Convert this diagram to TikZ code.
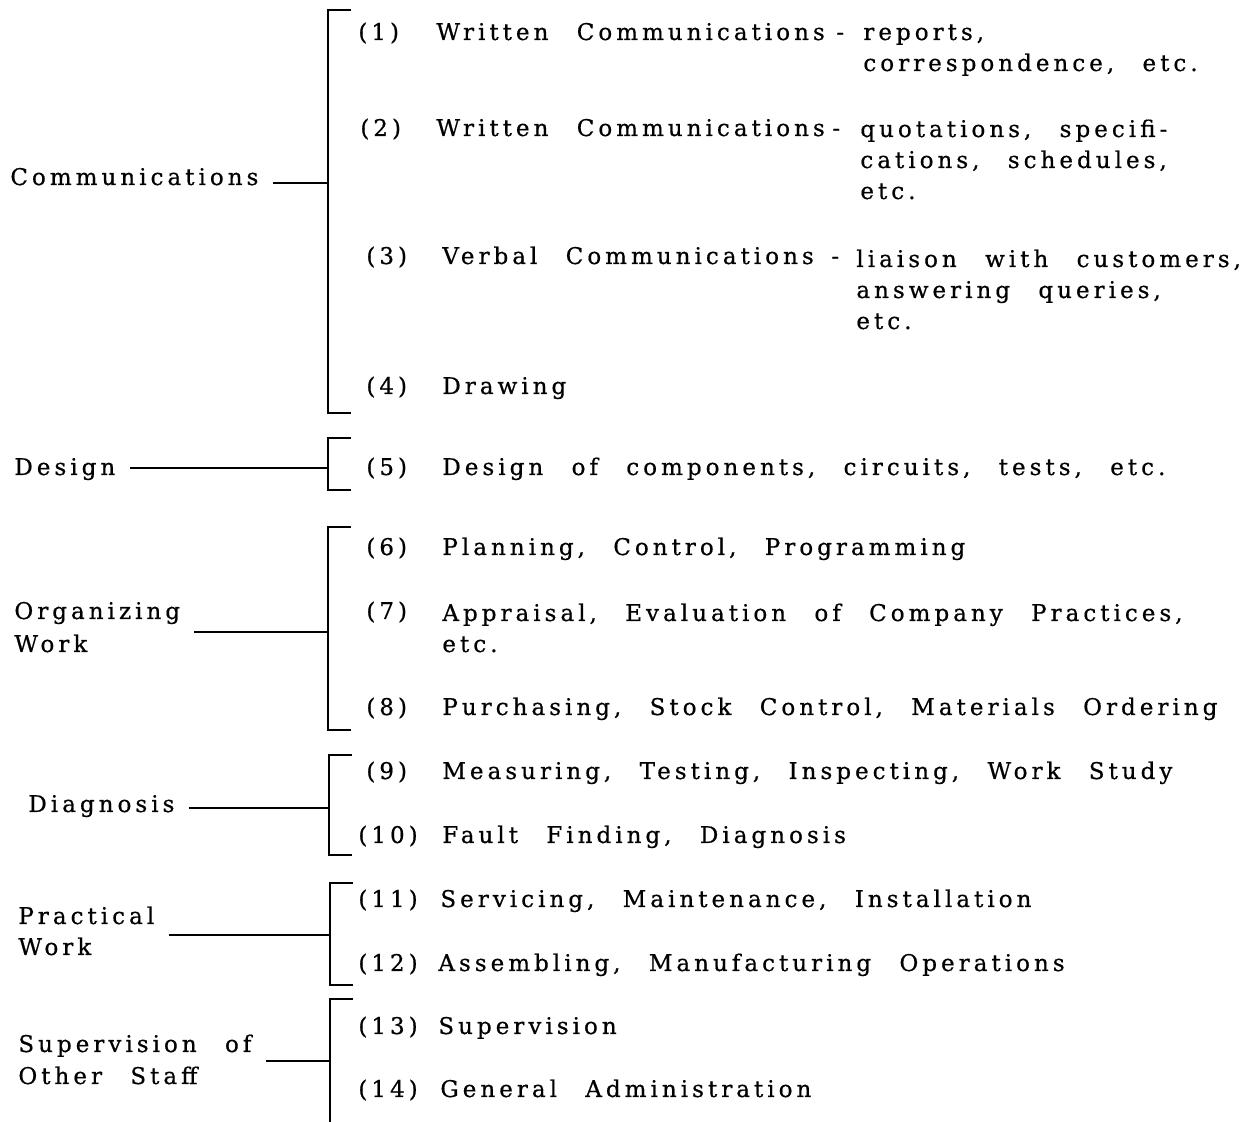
\documentclass[tikz,border=0pt]{standalone}
\usepackage{fontspec}
\newfontfamily\typefont[LetterSpace=17.5,WordSpace=2.5,FakeBold=0.6]{DejaVu Serif}
\usetikzlibrary{calc}

\tikzset{
  txt/.style={anchor=base west, inner sep=0pt, align=left,
    font=\typefont\fontsize{11.5}{15.5}\selectfont},
  brk/.style={line width=1.4pt},
  lead/.style={line width=1.4pt, shorten <=7pt}
}

\begin{document}
\begin{tikzpicture}[x=0.5pt,y=-0.5pt]
    \useasboundingbox (0,0) rectangle (1244,1122);
    % brackets
    \coordinate (b1t) at (328,10);
    \coordinate (b1b) at (328,413);
    \coordinate (b2t) at (328,438);
    \coordinate (b2b) at (328,490);
    \coordinate (b3t) at (328,527);
    \coordinate (b3b) at (328,730);
    \coordinate (b4t) at (329,755);
    \coordinate (b4b) at (329,855);
    \coordinate (b5t) at (330,883);
    \coordinate (b5b) at (330,985);
    \coordinate (b6t) at (330,999);
    \coordinate (b6b) at (330,1122);
    \coordinate (j1) at (328,183);
    \coordinate (j2) at (328,468);
    \coordinate (j3) at (328,632);
    \coordinate (j4) at (329,808);
    \coordinate (j5) at (330,935);
    \coordinate (j6) at (330,1061);
    \draw[brk] (b1t) ++(23,0) -- (b1t) -- (b1b) -- ++(23,0);
    \draw[brk] (b2t) ++(23,0) -- (b2t) -- (b2b) -- ++(23,0);
    \draw[brk] (b3t) ++(23,0) -- (b3t) -- (b3b) -- ++(23,0);
    \draw[brk] (b4t) ++(23,0) -- (b4t) -- (b4b) -- ++(23,0);
    \draw[brk] (b5t) ++(23,0) -- (b5t) -- (b5b) -- ++(23,0);
    \draw[brk] (b6t) ++(23,0) -- (b6t) -- (b6b);

    % groups on the left
    \node[txt] (comm) at (10,185) {Communications};
    \node[txt] (des) at (14,475) {Design};
    \node[txt] (orga) at (14,619) {Organizing};
    \node[txt] (orgb) at (14,652) {Work};
    \node[txt] (diag) at (28,812) {Diagnosis};
    \node[txt] (praca) at (18,924) {Practical};
    \node[txt] (pracb) at (18,955) {Work};
    \node[txt] (supa) at (18,1052) {Supervision of};
    \node[txt] (supb) at (18,1084) {Other Staff};
    \draw[lead] (comm.east |- j1) -- (j1);
    \draw[lead] (des.east |- j2) -- (j2);
    \draw[lead] (orga.east |- j3) -- (j3);
    \draw[lead] (diag.east |- j4) -- (j4);
    \draw[lead] (praca.east |- j5) -- (j5);
    \draw[lead] (supa.east |- j6) -- (j6);

    % items (a node of several lines sits on its last baseline)
    \node[txt] (n1) at (358,40) {(1)};
    \node[txt] (t1) at (436,40) {Written Communications};
    \node[txt] (d1) at (836,40) {-};
    \node[txt] (e1) at (863,71) {reports,\\correspondence, etc.};
    \node[txt] (n2) at (360,136) {(2)};
    \node[txt] (t2) at (436,136) {Written Communications};
    \node[txt] (d2) at (832,136) {-};
    \node[txt] (e2) at (860,199) {quotations, specifi-\\cations, schedules,\\etc.};
    \node[txt] (n3) at (366,264) {(3)};
    \node[txt] (t3) at (442,264) {Verbal Communications};
    \node[txt] (d3) at (831,264) {-};
    \node[txt] (e3) at (856,329) {liaison with customers,\\answering queries,\\etc.};
    \node[txt] (n4) at (366,394) {(4)};
    \node[txt] (t4) at (442,394) {Drawing};
    \node[txt] (n5) at (366,475) {(5)};
    \node[txt] (t5) at (442,475) {Design of components, circuits, tests, etc.};
    \node[txt] (n6) at (366,555) {(6)};
    \node[txt] (t6) at (442,555) {Planning, Control, Programming};
    \node[txt] (n7) at (366,619) {(7)};
    \node[txt] (t7) at (442,652) {Appraisal, Evaluation of Company Practices,\\etc.};
    \node[txt] (n8) at (366,715) {(8)};
    \node[txt] (t8) at (442,715) {Purchasing, Stock Control, Materials Ordering};
    \node[txt] (n9) at (366,779) {(9)};
    \node[txt] (t9) at (442,779) {Measuring, Testing, Inspecting, Work Study};
    \node[txt] (n10) at (358,843) {(10)};
    \node[txt] (t10) at (442,843) {Fault Finding, Diagnosis};
    \node[txt] (n11) at (358,907) {(11)};
    \node[txt] (t11) at (440,907) {Servicing, Maintenance, Installation};
    \node[txt] (n12) at (358,971) {(12)};
    \node[txt] (t12) at (438,971) {Assembling, Manufacturing Operations};
    \node[txt] (n13) at (358,1034) {(13)};
    \node[txt] (t13) at (438,1034) {Supervision};
    \node[txt] (n14) at (358,1097) {(14)};
    \node[txt] (t14) at (440,1097) {General Administration};
  \end{tikzpicture}
\end{document}
